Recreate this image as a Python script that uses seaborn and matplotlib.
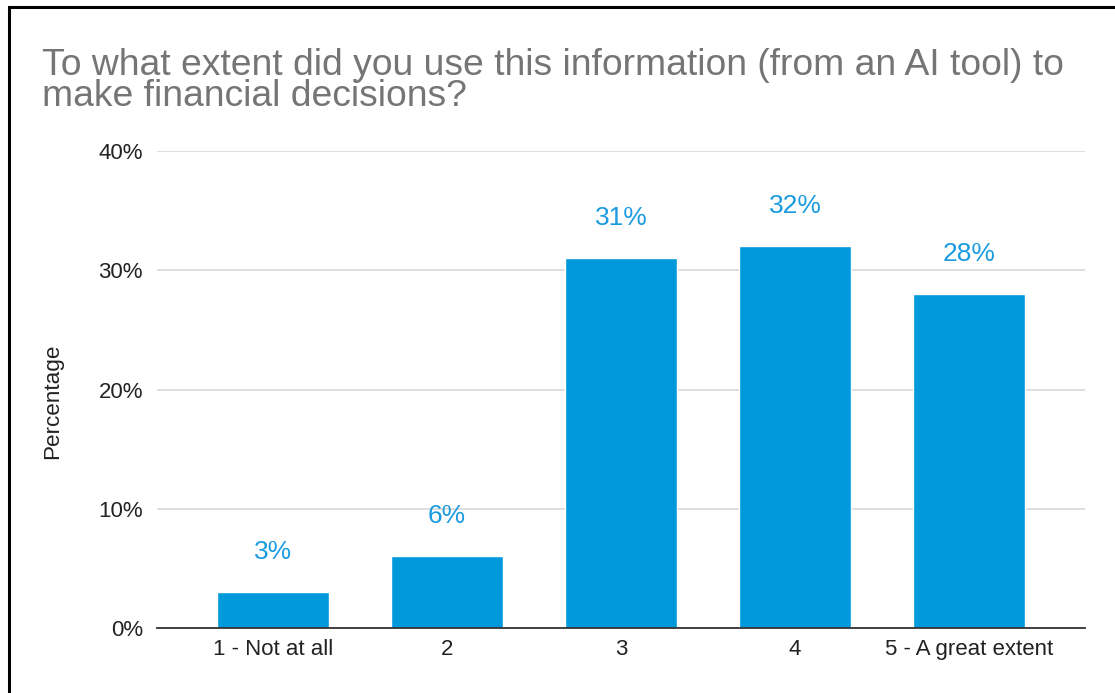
import matplotlib
matplotlib.use("Agg")
import matplotlib.pyplot as plt
import matplotlib.patches as mpatches
from matplotlib.ticker import FuncFormatter
import seaborn as sns
import pandas as pd

# Survey responses: share of respondents per answer
categories = ["1 - Not at all", "2", "3", "4", "5 - A great extent"]
percentages = [3, 6, 31, 32, 28]
y_ticks = [0, 10, 20, 30, 40]

title = "To what extent did you use this information (from an AI tool) to\nmake financial decisions?"

sns.set_theme(style="white")
plt.rcParams["font.family"] = ["Liberation Sans", "DejaVu Sans"]

bar_color = "#0099DC"
label_color = "#1A9BE0"

df = pd.DataFrame({"category": categories, "percentage": percentages})

fig = plt.figure(figsize=(11.15, 6.93), dpi=100)
ax = fig.add_axes([0.1408, 0.0938, 0.8323, 0.6883])

sns.barplot(data=df, x="category", y="percentage", color=bar_color,
            saturation=1, width=0.644, ax=ax)

ax.set_xlim(-0.667, 4.667)
ax.set_ylim(0, 40)
ax.set_yticks(y_ticks)
ax.yaxis.set_major_formatter(FuncFormatter(lambda v, _: f"{v:.0f}%"))
ax.grid(axis="y", color="#d4d4d4", linewidth=1.1)
ax.set_axisbelow(True)
for side in ["top", "right", "left"]:
    ax.spines[side].set_visible(False)
ax.spines["bottom"].set_color("#333333")
ax.spines["bottom"].set_linewidth(1.3)
ax.tick_params(axis="both", length=0, labelsize=16, colors="#222222")
ax.tick_params(axis="x", pad=8)
ax.tick_params(axis="y", pad=10)
ax.set_xlabel("")
ax.set_ylabel("Percentage", fontsize=16.2, color="#222222")
ax.yaxis.set_label_coords(-0.1013, 0.476)

# Value labels above each bar
for patch, val in zip(ax.patches, percentages):
    ax.annotate(f"{val}%", (patch.get_x() + patch.get_width() / 2, val),
                xytext=(0, 29), textcoords="offset points",
                ha="center", va="center", fontsize=19, color=label_color)

fig.text(0.0377, 0.931, title, fontsize=26.8, color="#757575",
         ha="left", va="top", linespacing=0.87)

# Frame around the chart
frame = mpatches.Rectangle((0.0081, -0.05), 1.2, 1.04, transform=fig.transFigure,
                           fill=False, edgecolor="black", linewidth=2.2)
fig.patches.append(frame)

fig.savefig("out.png", dpi=100, facecolor="white")
